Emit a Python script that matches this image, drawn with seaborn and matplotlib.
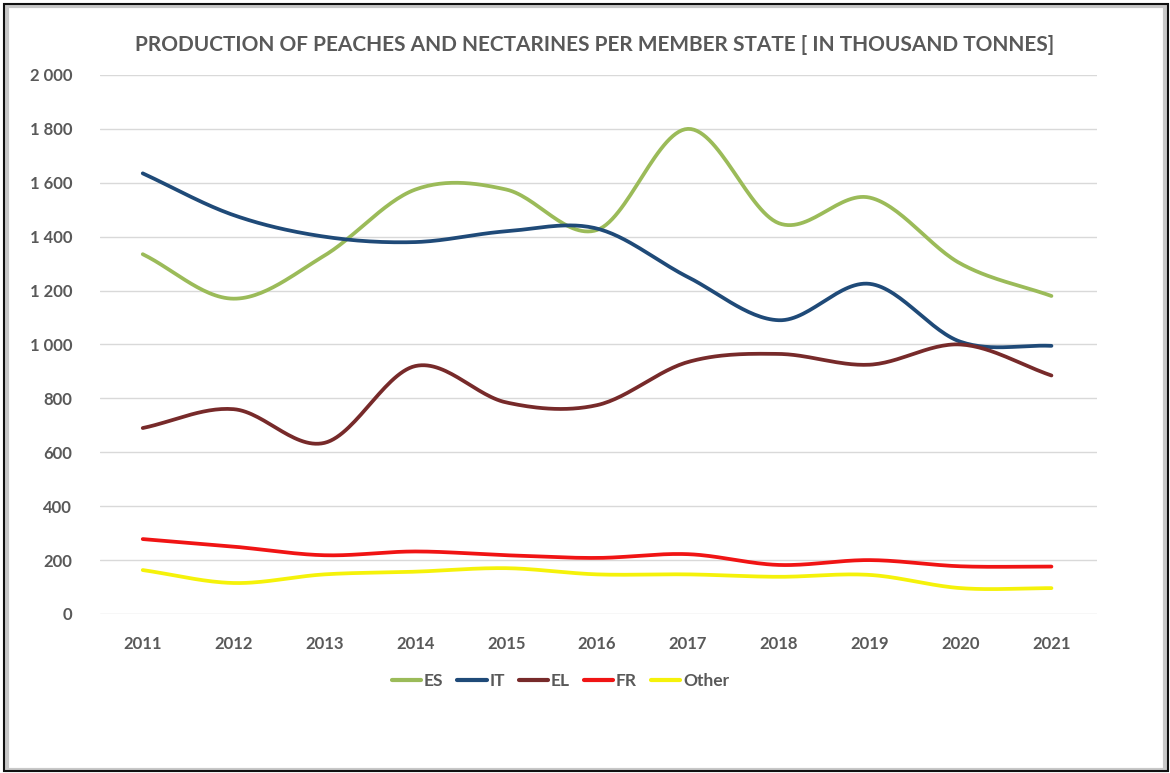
import numpy as np
import pandas as pd
import matplotlib
matplotlib.use("Agg")
import matplotlib.pyplot as plt
import matplotlib.patches as patches
from matplotlib.ticker import FuncFormatter
import seaborn as sns

years = [2011, 2012, 2013, 2014, 2015, 2016, 2017, 2018, 2019, 2020, 2021]
es = [1335, 1170, 1330, 1575, 1575, 1425, 1800, 1450, 1545, 1300, 1180]
it = [1635, 1480, 1400, 1380, 1420, 1430, 1250, 1090, 1225, 1010, 995]
el = [690, 760, 635, 920, 785, 775, 935, 965, 925, 1000, 885]
fr = [278, 250, 218, 232, 218, 208, 222, 182, 200, 177, 176]
other = [163, 115, 147, 157, 170, 147, 147, 138, 145, 96, 96]

series = ["ES", "IT", "EL", "FR", "Other"]
colors = ["#9BBB59", "#1F4A78", "#772A2A", "#F01414", "#F5F20A"]


def smooth(x, y, n=30):
    # catmull-rom style smoothing, like excel's "smoothed line"
    x = np.asarray(x, float)
    y = np.asarray(y, float)
    px = np.concatenate([[2 * x[0] - x[1]], x, [2 * x[-1] - x[-2]]])
    py = np.concatenate([[2 * y[0] - y[1]], y, [2 * y[-1] - y[-2]]])
    xs, ys = [], []
    t = np.linspace(0, 1, n, endpoint=False)
    for i in range(1, len(px) - 2):
        for arr, out in ((px, xs), (py, ys)):
            p0, p1, p2, p3 = arr[i - 1], arr[i], arr[i + 1], arr[i + 2]
            out.extend(0.5 * ((2 * p1) + (-p0 + p2) * t
                              + (2 * p0 - 5 * p1 + 4 * p2 - p3) * t ** 2
                              + (-p0 + 3 * p1 - 3 * p2 + p3) * t ** 3))
    xs.append(x[-1])
    ys.append(y[-1])
    return np.array(xs), np.array(ys)


sns.set_style("white")
plt.rcParams["font.family"] = ["Lato", "DejaVu Sans"]

fig = plt.figure(figsize=(11.7, 7.73), dpi=100)
ax = fig.add_axes([0.0855, 0.2057, 0.852, 0.6973])

frames = []
for name, vals in zip(series, [es, it, el, fr, other]):
    sx, sy = smooth(years, vals)
    frames.append(pd.DataFrame({"year": sx, "value": sy, "series": name}))
df = pd.concat(frames, ignore_index=True)

sns.lineplot(data=df, x="year", y="value", hue="series", palette=colors,
             hue_order=series, linewidth=2.7, sort=False, estimator=None,
             ax=ax, legend=False)

ax.set_xlim(2010.53, 2021.5)
ax.set_ylim(0, 2000)
ax.set_xticks(years)
ax.set_yticks(range(0, 2001, 200))
ax.yaxis.set_major_formatter(FuncFormatter(lambda v, p: f"{int(v):,}".replace(",", " ")))
ax.grid(axis="y", color="#D9D9D9", linewidth=1)
ax.set_axisbelow(True)
for s in ax.spines.values():
    s.set_visible(False)
ax.tick_params(axis="both", length=0, labelsize=12, labelcolor="#595959")
ax.tick_params(axis="y", pad=20)
ax.tick_params(axis="x", pad=16)
for lab in ax.get_xticklabels() + ax.get_yticklabels():
    lab.set_fontweight("bold")
ax.set_xlabel("")
ax.set_ylabel("")

fig.text(0.508, 0.942, "PRODUCTION OF PEACHES AND NECTARINES PER MEMBER STATE [ IN THOUSAND TONNES]",
         ha="center", va="center", fontsize=15, fontweight="bold", color="#595959")

handles = [plt.Line2D([], [], color=c, linewidth=3) for c in colors]
fig.legend(handles, series, loc="center", bbox_to_anchor=(0.479, 0.119), ncol=5,
           frameon=False, handlelength=1.7, handletextpad=0.15, columnspacing=0.8,
           prop={"size": 12.5, "weight": "bold"}, labelcolor="#595959")

# frame around the chart
fig.patches.append(patches.Rectangle((0.006, 0.004), 0.99, 0.988, transform=fig.transFigure,
                                     fill=False, edgecolor="#C8C8C8", linewidth=3))
fig.patches.append(patches.Rectangle((0.003, 0.002), 0.995, 0.993, transform=fig.transFigure,
                                     fill=False, edgecolor="#111111", linewidth=1.5))

fig.savefig("out.png", dpi=100)
